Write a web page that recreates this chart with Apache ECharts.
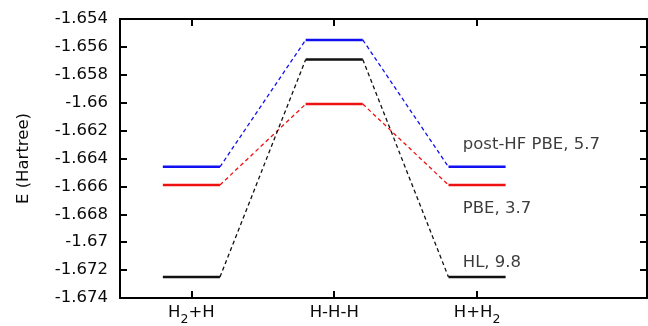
<!DOCTYPE html>
<html>
<head>
<meta charset="utf-8">
<script src="https://cdn.jsdelivr.net/npm/echarts@6/dist/echarts.min.js"></script>
<style>html,body{margin:0;padding:0;background:#fff}#c{width:648px;height:326px}</style>
</head>
<body>
<div id="c"></div>
<script>
// States along the reaction path (x positions 1,2,3)
const statePos = [1, 2, 3];
const stateLabels = ['{n|H}{s|2}{n|+H}', '{n|H-H-H}', '{n|H+H}{s|2}'];
// Energies (Hartree) at each state
const postHF = [-1.6646, -1.6555, -1.6646];
const pbe    = [-1.6659, -1.6601, -1.6659];
const hl     = [-1.6725, -1.6569, -1.6725];
// Method annotations: text and anchor (x, E)
const annText = ['post-HF PBE, 5.7', 'PBE, 3.7', 'HL, 9.8'];
const annX = [2.9, 2.9, 2.9];
const annY = [-1.6630, -1.6676, -1.6715];
// Y ticks
const yMin = -1.674, yMax = -1.654, yStep = 0.002;

const methods = [
  {name: 'post-HF PBE', data: postHF, color: '#1010f0'},
  {name: 'PBE', data: pbe, color: '#ee1111'},
  {name: 'HL', data: hl, color: '#111111'}
];
const half = 0.2;
const FONT = 'DejaVu Sans';
const FS = 16.5;
const TXT = '#0a0a0a';
const series = [];
methods.forEach(m => {
  // dashed connectors
  for (let i = 0; i < statePos.length - 1; i++) {
    series.push({
      type: 'line', symbol: 'none', silent: true, z: 2,
      data: [[statePos[i] + half, m.data[i]], [statePos[i + 1] - half, m.data[i + 1]]],
      lineStyle: {color: m.color, width: 1.3, type: [4, 3]}
    });
  }
  // solid levels
  for (let i = 0; i < statePos.length; i++) {
    series.push({
      type: 'line', symbol: 'none', silent: true, z: 3,
      data: [[statePos[i] - half, m.data[i]], [statePos[i] + half, m.data[i]]],
      lineStyle: {color: m.color, width: 2.5}
    });
  }
});
series.push({
  type: 'scatter', symbolSize: 0, silent: true,
  data: annText.map((t, i) => ({value: [annX[i], annY[i]], name: t})),
  label: {show: true, position: 'right', distance: 0, formatter: p => p.name,
          fontFamily: FONT, fontSize: FS, color: TXT, align: 'left', verticalAlign: 'middle'}
});

const axisLine = {show: true, lineStyle: {color: '#000', width: 2}};
const chart = echarts.init(document.getElementById('c'), null, {renderer: 'canvas'});
chart.setOption({
  animation: false,
  backgroundColor: '#fff',
  grid: {left: 120, right: 1, top: 19, bottom: 28},
  xAxis: [{
    type: 'value', min: 0.5, max: 4.19, position: 'bottom',
    axisLine: axisLine, splitLine: {show: false},
    axisTick: {show: true, inside: true, length: 7, customValues: statePos, lineStyle: {width: 2, color: '#000'}},
    axisLabel: {show: true, customValues: statePos, margin: 8,
      formatter: v => stateLabels[statePos.indexOf(Math.round(v))] || '',
      rich: {
        n: {fontFamily: FONT, fontSize: FS, color: TXT, lineHeight: 20, verticalAlign: 'bottom', padding: [0, 0, 5, 0]},
        s: {fontFamily: FONT, fontSize: 12.5, color: TXT, lineHeight: 20, verticalAlign: 'bottom'}
      }}
  }, {
    type: 'value', min: 0.5, max: 4.19, position: 'top',
    axisLine: axisLine, splitLine: {show: false}, axisLabel: {show: false},
    axisTick: {show: true, inside: true, length: 7, customValues: statePos, lineStyle: {width: 2, color: '#000'}}
  }],
  yAxis: [{
    type: 'value', min: yMin, max: yMax, interval: yStep, position: 'left',
    name: 'E (Hartree)', nameLocation: 'middle', nameGap: 88, nameRotate: 90,
    nameTextStyle: {fontFamily: FONT, fontSize: FS, color: TXT},
    axisLine: axisLine, splitLine: {show: false},
    axisTick: {show: true, inside: true, length: 7, lineStyle: {width: 2, color: '#000'}},
    axisLabel: {margin: 12, fontFamily: FONT, fontSize: FS, color: TXT,
      formatter: v => String(+v.toFixed(3))}
  }, {
    type: 'value', min: yMin, max: yMax, interval: yStep, position: 'right',
    axisLine: axisLine, splitLine: {show: false}, axisLabel: {show: false},
    axisTick: {show: true, inside: true, length: 7, lineStyle: {width: 2, color: '#000'}}
  }],
  series: series
});
</script>
</body>
</html>
